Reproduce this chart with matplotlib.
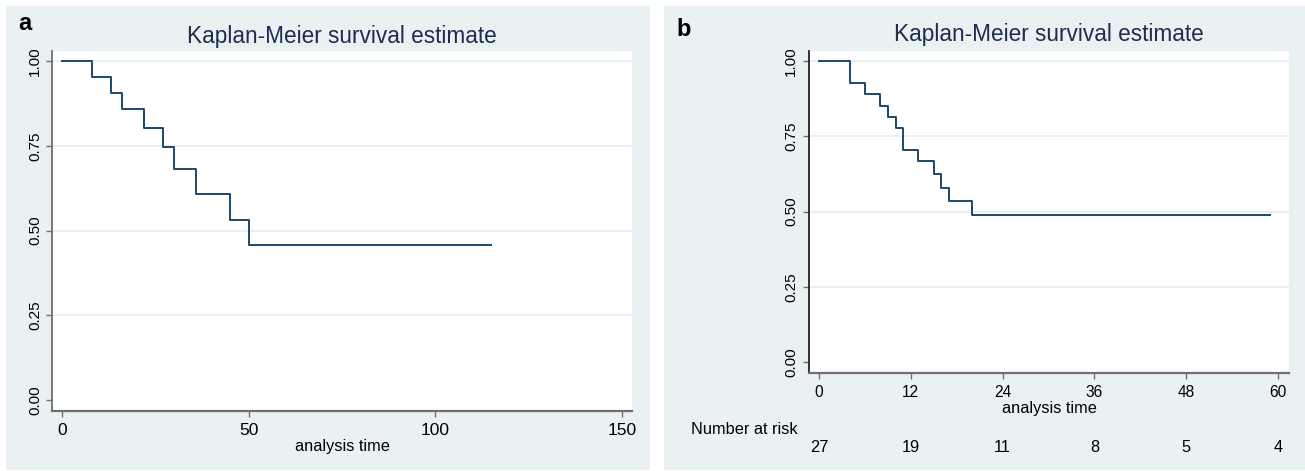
import matplotlib
matplotlib.use("Agg")
import matplotlib.pyplot as plt
from matplotlib.patches import Rectangle
from matplotlib.transforms import blended_transform_factory

plt.rcParams['font.family'] = ['Liberation Sans', 'DejaVu Sans']

# ---- data ----
title = "Kaplan-Meier survival estimate"
xlabel = "analysis time"

a_times = [0, 8, 13, 16, 22, 27, 30, 36, 45, 50, 115]
a_surv = [1.0, 0.952, 0.905, 0.857, 0.803, 0.746, 0.681, 0.609, 0.531, 0.456, 0.456]
a_xticks = [0, 50, 100, 150]

b_times = [0, 4, 6, 8, 9, 10, 11, 13, 15, 16, 17, 20, 59]
b_surv = [1.0, 0.926, 0.889, 0.852, 0.815, 0.778, 0.704, 0.667, 0.626, 0.579, 0.535, 0.488, 0.488]
b_xticks = [0, 12, 24, 36, 48, 60]
b_at_risk = [27, 19, 11, 8, 5, 4]

y_ticks = [0.0, 0.25, 0.5, 0.75, 1.0]
y_ticklabels = ["0.00", "0.25", "0.50", "0.75", "1.00"]

# ---- styles ----
W, H = 1305, 471
BG = "#eaf1f3"
LINE = "#1a476f"
TITLE_C = "#1e2d4d"
GRID = "#e6eef0"

fig = plt.figure(figsize=(W / 100, H / 100), dpi=100)
fig.patch.set_facecolor("white")

def fx(px):
    return px / W

def fy(py):
    return 1 - py / H

# panel backgrounds
fig.patches.append(Rectangle((fx(6), fy(470)), fx(650 - 6), (470 - 6) / H,
                             transform=fig.transFigure, facecolor=BG, edgecolor="none", zorder=-10))
fig.patches.append(Rectangle((fx(664), fy(470)), fx(1305 - 664), (470 - 6) / H,
                             transform=fig.transFigure, facecolor=BG, edgecolor="none", zorder=-10))

def setup(ax, xlim, ylim, xticks, xfs, yfs, xpad, ypad, leftcol):
    ax.set_facecolor("white")
    ax.set_xlim(*xlim)
    ax.set_ylim(*ylim)
    for s in ["top", "right"]:
        ax.spines[s].set_visible(False)
    ax.spines["left"].set_color(leftcol)
    ax.spines["bottom"].set_color("#6e6e6e")
    ax.spines["left"].set_linewidth(1.3)
    ax.spines["bottom"].set_linewidth(1.6)
    ax.set_xticks(xticks)
    ax.set_xticklabels([str(t) for t in xticks], fontsize=xfs)
    ax.set_yticks(y_ticks)
    ax.set_yticklabels(y_ticklabels, fontsize=yfs, rotation=90, va="center")
    ax.tick_params(axis="x", direction="out", length=4, width=1, color="#6e6e6e", pad=xpad)
    ax.tick_params(axis="y", direction="out", length=4, width=1, color="#6e6e6e", pad=ypad)
    for y in y_ticks[1:]:
        ax.axhline(y, color=GRID, lw=1.2, zorder=1)

# ---- panel a ----
axa = fig.add_axes([fx(52), fy(411), fx(632 - 52), (411 - 51) / H])
axa.set_zorder(1)
setup(axa, (-2.68, 152.7), (-0.0324, 1.0295), a_xticks, 12.5, 11, 4.5, 3, "#6e6e6e")
axa.step(a_times, a_surv, where="post", color=LINE, lw=1.4, zorder=3)

fig.text(fx(342), fy(36), title, ha="center", va="center", fontsize=16.3, color=TITLE_C)
fig.text(fx(342), fy(447), xlabel, ha="center", va="center", fontsize=11.8, color="black")
fig.text(fx(25), fy(23), "a", ha="center", va="center", fontsize=17, fontweight="bold")

# ---- panel b ----
axb = fig.add_axes([fx(809), fy(373), fx(1289 - 809), (373 - 51) / H])
axb.set_zorder(1)
setup(axb, (-1.31, 61.44), (-0.0365, 1.0332), b_xticks, 11.2, 11, 4.5, 4, "#222222")
axb.step(b_times, b_surv, where="post", color=LINE, lw=1.4, zorder=3)

fig.text(fx(1049), fy(35), title, ha="center", va="center", fontsize=16.3, color=TITLE_C)
fig.text(fx(1049), fy(408), xlabel, ha="center", va="center", fontsize=11.8, color="black")
fig.text(fx(684), fy(29), "b", ha="center", va="center", fontsize=17, fontweight="bold")

fig.text(fx(691), fy(430), "Number at risk", ha="left", va="center", fontsize=11.8, color="black")
tr = blended_transform_factory(axb.transData, fig.transFigure)
for t, n in zip(b_xticks, b_at_risk):
    axb.text(t, fy(447), str(n), transform=tr, ha="center", va="center", fontsize=11.8,
             color="black", clip_on=False)

fig.savefig("out.png", dpi=100, facecolor="white")
